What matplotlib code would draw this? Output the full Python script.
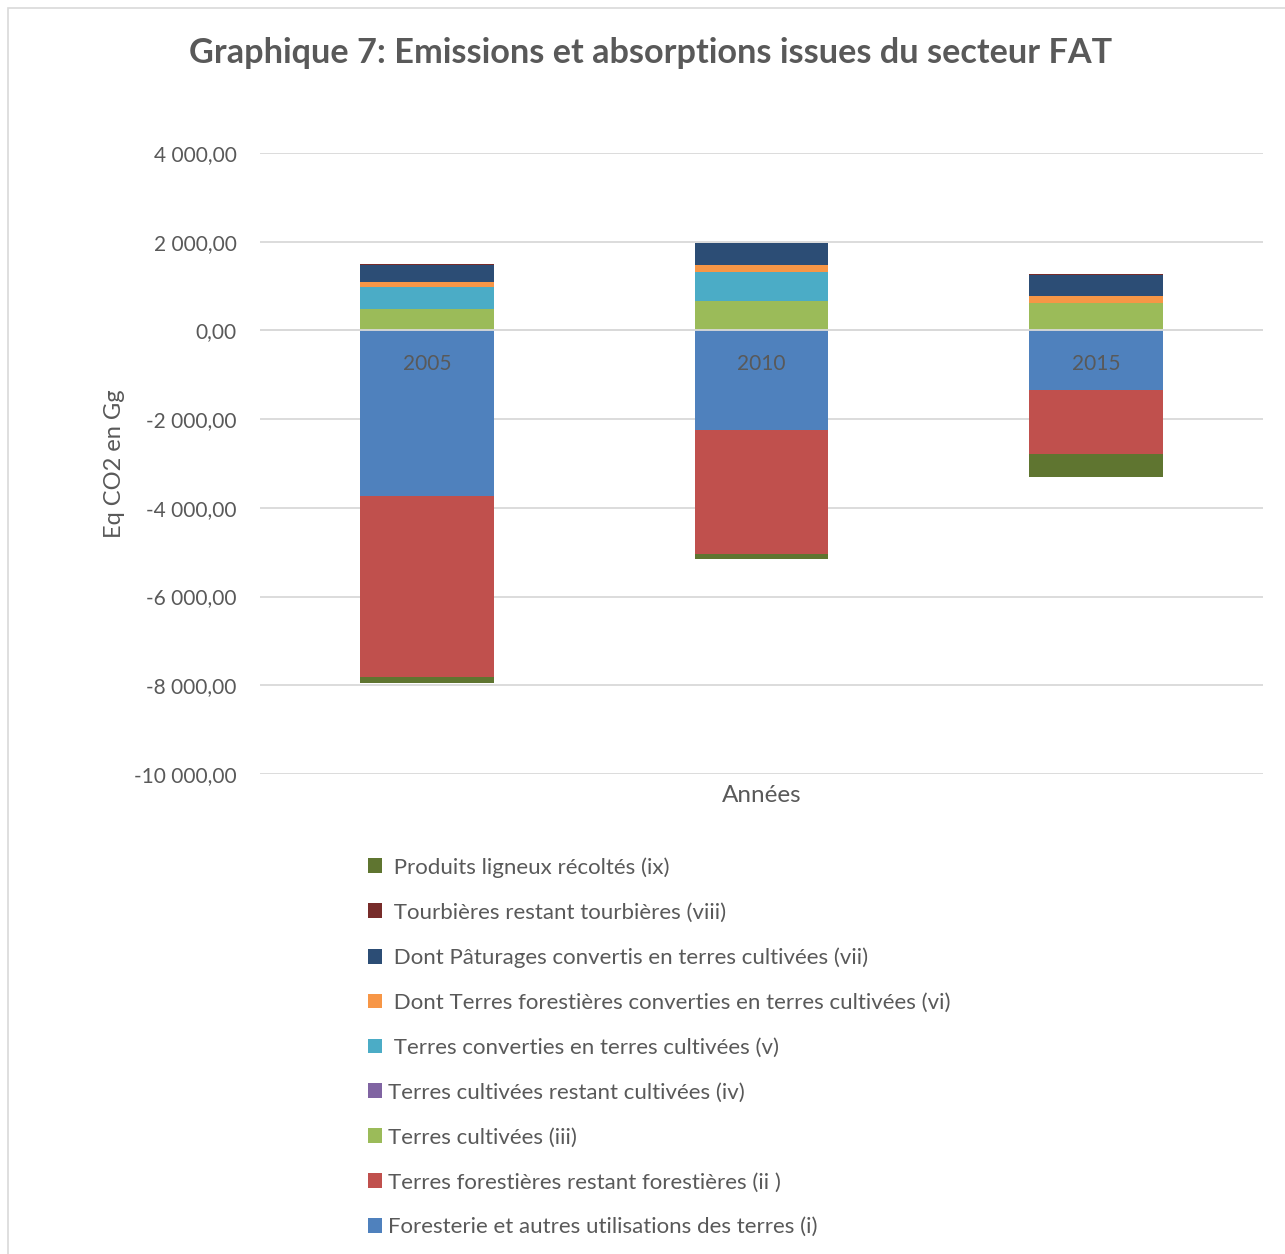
import numpy as np
import matplotlib.pyplot as plt
from matplotlib.patches import Rectangle, Patch
from matplotlib.ticker import FuncFormatter

plt.rcParams['font.family'] = ['Lato', 'DejaVu Sans']

annees = ['2005', '2010', '2015']

# series in Excel order (i) ... (ix)
noms = [
    'Foresterie et autres utilisations des terres (i)',
    'Terres forestières restant forestières (ii )',
    'Terres cultivées (iii)',
    'Terres cultivées restant cultivées (iv)',
    ' Terres converties en terres cultivées (v)',
    ' Dont Terres forestières converties en terres cultivées (vi)',
    ' Dont Pâturages convertis en terres cultivées (vii)',
    ' Tourbières restant tourbières (viii)',
    ' Produits ligneux récoltés (ix)',
]
serie_i = [-3726, -2247, -1353]
serie_ii = [-4080, -2787, -1443]
serie_iii = [489, 660, 609]
serie_iv = [0, 0, 0]
serie_v = [487, 647, 0]
serie_vi = [122, 174, 174]
serie_vii = [383, 496, 458]
serie_viii = [20, 5, 20]
serie_ix = [-151, -120, -518]
valeurs = [serie_i, serie_ii, serie_iii, serie_iv, serie_v,
           serie_vi, serie_vii, serie_viii, serie_ix]
couleurs = ['#4F81BD', '#C0504D', '#9BBB59', '#8064A2', '#4BACC6',
            '#F79646', '#2C4D75', '#772C2A', '#5F7530']

gris = '#595959'

fig = plt.figure(figsize=(12.85, 12.54), dpi=100)
ax = fig.add_axes([260/1285, 1-774/1254, (1263-260)/1285, (774-153)/1254])

x = np.arange(len(annees))
pos = np.zeros(len(annees))
neg = np.zeros(len(annees))
for v, c in zip(valeurs, couleurs):
    v = np.array(v, dtype=float)
    bas = np.where(v >= 0, pos, neg)
    ax.bar(x, v, 0.4, bottom=bas, color=c, edgecolor='none', zorder=3)
    pos = pos + np.where(v >= 0, v, 0)
    neg = neg + np.where(v < 0, v, 0)

ax.set_xlim(-0.5, 2.5)
ax.set_ylim(-10000, 4000)
ax.set_yticks(np.arange(-10000, 4001, 2000))
ax.yaxis.set_major_formatter(FuncFormatter(
    lambda y, p: f'{y:,.2f}'.replace(',', ' ').replace('.', ',')))
ax.tick_params(axis='y', length=0, labelsize=15, labelcolor=gris, pad=17)
ax.set_xticks([])
ax.grid(axis='y', color='#D9D9D9', linewidth=1.3, zorder=0)
ax.axhline(0, color='#D9D9D9', linewidth=1.3, zorder=4)
for s in ax.spines.values():
    s.set_visible(False)

for i, a in enumerate(annees):
    ax.annotate(a, (i, 0), xytext=(0, -24), textcoords='offset points',
                ha='center', va='center', fontsize=15, color=gris, zorder=5)

ax.set_xlabel('Années', fontsize=17.5, color=gris, labelpad=8)
ax.set_ylabel('Eq CO2 en Gg', fontsize=17, color=gris, labelpad=6)

fig.text(651/1285, 1-53/1254, 'Graphique 7: Emissions et absorptions issues du secteur FAT',
         ha='center', va='center', fontsize=24.7, fontweight='bold', color=gris)

handles = [Patch(facecolor=c, edgecolor='none') for c in couleurs][::-1]
fig.legend(handles, noms[::-1], loc='upper left',
           bbox_to_anchor=(348/1285, 1-837/1254), frameon=False,
           fontsize=16, labelcolor=gris, handlelength=0.65, handleheight=0.65,
           handletextpad=0.25, labelspacing=1.12)

fig.patches.append(Rectangle((8/1285, -0.01), 1.0, 1-8/1254 + 0.01,
                             transform=fig.transFigure, fill=False,
                             edgecolor='#D9D9D9', linewidth=1.2))

fig.savefig('out.png', dpi=100)
